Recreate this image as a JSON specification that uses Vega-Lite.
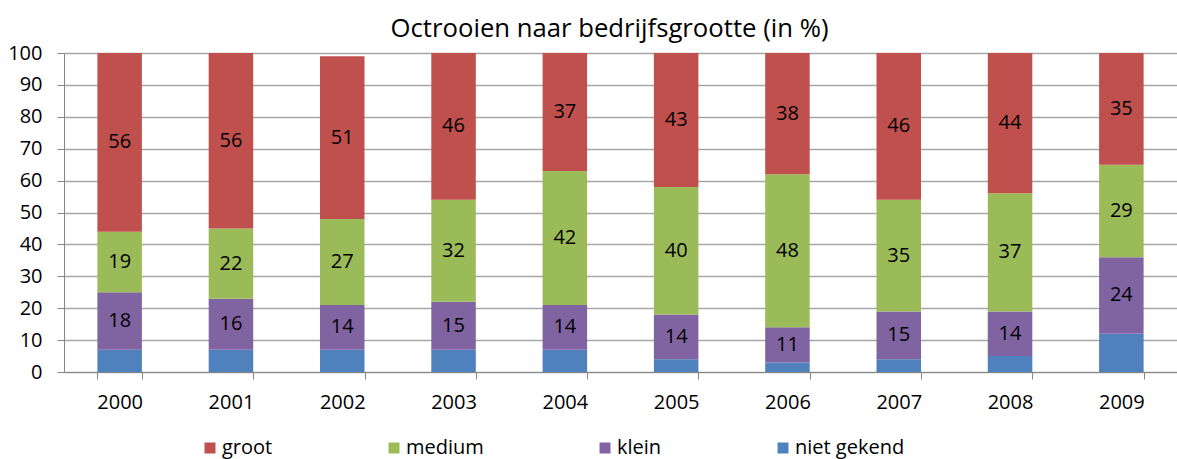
{
  "$schema": "https://vega.github.io/schema/vega-lite/v6.json",
  "autosize": "none",
  "width": 1113,
  "height": 319,
  "padding": {"left": 64, "top": 53, "right": 0, "bottom": 87},
  "background": "white",
  "title": {
    "text": "Octrooien naar bedrijfsgrootte (in %)",
    "font": "Open Sans",
    "fontSize": 25.7,
    "fontWeight": "normal",
    "color": "#000000",
    "anchor": "middle",
    "dx": -11,
    "offset": 0
  },
  "config": {
    "view": {"stroke": null},
    "font": "Open Sans"
  },
  "data": {
    "values": [
      {"year": "2000", "cat": "niet gekend", "k": 1, "v": 7},
      {"year": "2000", "cat": "klein", "k": 2, "v": 18},
      {"year": "2000", "cat": "medium", "k": 3, "v": 19},
      {"year": "2000", "cat": "groot", "k": 4, "v": 56},
      {"year": "2001", "cat": "niet gekend", "k": 1, "v": 7},
      {"year": "2001", "cat": "klein", "k": 2, "v": 16},
      {"year": "2001", "cat": "medium", "k": 3, "v": 22},
      {"year": "2001", "cat": "groot", "k": 4, "v": 56},
      {"year": "2002", "cat": "niet gekend", "k": 1, "v": 7},
      {"year": "2002", "cat": "klein", "k": 2, "v": 14},
      {"year": "2002", "cat": "medium", "k": 3, "v": 27},
      {"year": "2002", "cat": "groot", "k": 4, "v": 51},
      {"year": "2003", "cat": "niet gekend", "k": 1, "v": 7},
      {"year": "2003", "cat": "klein", "k": 2, "v": 15},
      {"year": "2003", "cat": "medium", "k": 3, "v": 32},
      {"year": "2003", "cat": "groot", "k": 4, "v": 46},
      {"year": "2004", "cat": "niet gekend", "k": 1, "v": 7},
      {"year": "2004", "cat": "klein", "k": 2, "v": 14},
      {"year": "2004", "cat": "medium", "k": 3, "v": 42},
      {"year": "2004", "cat": "groot", "k": 4, "v": 37},
      {"year": "2005", "cat": "niet gekend", "k": 1, "v": 4},
      {"year": "2005", "cat": "klein", "k": 2, "v": 14},
      {"year": "2005", "cat": "medium", "k": 3, "v": 40},
      {"year": "2005", "cat": "groot", "k": 4, "v": 43},
      {"year": "2006", "cat": "niet gekend", "k": 1, "v": 3},
      {"year": "2006", "cat": "klein", "k": 2, "v": 11},
      {"year": "2006", "cat": "medium", "k": 3, "v": 48},
      {"year": "2006", "cat": "groot", "k": 4, "v": 38},
      {"year": "2007", "cat": "niet gekend", "k": 1, "v": 4},
      {"year": "2007", "cat": "klein", "k": 2, "v": 15},
      {"year": "2007", "cat": "medium", "k": 3, "v": 35},
      {"year": "2007", "cat": "groot", "k": 4, "v": 46},
      {"year": "2008", "cat": "niet gekend", "k": 1, "v": 5},
      {"year": "2008", "cat": "klein", "k": 2, "v": 14},
      {"year": "2008", "cat": "medium", "k": 3, "v": 37},
      {"year": "2008", "cat": "groot", "k": 4, "v": 44},
      {"year": "2009", "cat": "niet gekend", "k": 1, "v": 12},
      {"year": "2009", "cat": "klein", "k": 2, "v": 24},
      {"year": "2009", "cat": "medium", "k": 3, "v": 29},
      {"year": "2009", "cat": "groot", "k": 4, "v": 35}
    ]
  },
  "transform": [
    {"stack": "v", "groupby": ["year"], "sort": [{"field": "k", "order": "ascending"}], "as": ["v0", "v1"]}
  ],
  "layer": [
    {
      "mark": {"type": "bar"},
      "encoding": {
        "x": {
          "field": "year", "type": "nominal", "title": null,
          "scale": {"paddingInner": 0.6, "paddingOuter": 0.3},
          "axis": {
            "labelAngle": 0, "labelFont": "Open Sans", "labelFontSize": 20, "labelColor": "#000000",
            "tickBand": "extent", "tickSize": 7, "tickColor": "#868686", "domainColor": "#868686",
            "labelPadding": 13, "grid": false
          }
        },
        "y": {
          "field": "v0", "type": "quantitative", "title": null,
          "scale": {"domain": [0, 100], "clamp": true, "nice": false, "zero": true},
          "axis": {
            "values": [0, 10, 20, 30, 40, 50, 60, 70, 80, 90, 100],
            "tickCount": 11,
            "labelOverlap": false,
            "labelFont": "Open Sans", "labelFontSize": 20, "labelColor": "#000000",
            "tickSize": 7, "tickColor": "#868686", "domainColor": "#868686",
            "gridColor": "#A6A6A6", "gridWidth": 1.3, "labelPadding": 15
          }
        },
        "y2": {"field": "v1"},
        "color": {
          "field": "cat", "type": "nominal", "title": null,
          "scale": {
            "domain": ["groot", "medium", "klein", "niet gekend"],
            "range": ["#C0504D", "#9BBB59", "#8064A2", "#4F81BD"]
          },
          "legend": {
            "orient": "none", "direction": "horizontal",
            "legendX": 136, "legendY": 385,
            "padding": 0,
            "gridAlign": "each",
            "symbolType": "square", "symbolSize": 121, "symbolStrokeWidth": 0,
            "labelFont": "Open Sans", "labelFontSize": 20, "labelColor": "#000000",
            "labelOffset": 2, "columnPadding": 111
          }
        }
      }
    },
    {
      "transform": [
        {"filter": "datum.cat != 'niet gekend'"},
        {"calculate": "(datum.v0 + min(datum.v1, 100)) / 2", "as": "mid"}
      ],
      "mark": {"type": "text", "font": "Open Sans", "fontSize": 20, "color": "#000000", "baseline": "middle"},
      "encoding": {
        "x": {
          "field": "year", "type": "nominal", "title": null,
          "axis": {
            "labelAngle": 0, "labelFont": "Open Sans", "labelFontSize": 20, "labelColor": "#000000",
            "tickBand": "extent", "tickSize": 7, "tickColor": "#868686", "domainColor": "#868686",
            "labelPadding": 13, "grid": false
          }
        },
        "y": {
          "field": "mid", "type": "quantitative", "title": null,
          "axis": {
            "values": [0, 10, 20, 30, 40, 50, 60, 70, 80, 90, 100],
            "tickCount": 11,
            "labelOverlap": false,
            "labelFont": "Open Sans", "labelFontSize": 20, "labelColor": "#000000",
            "tickSize": 7, "tickColor": "#868686", "domainColor": "#868686",
            "gridColor": "#A6A6A6", "gridWidth": 1.3, "labelPadding": 15
          }
        },
        "text": {"field": "v", "type": "quantitative"}
      }
    }
  ]
}
